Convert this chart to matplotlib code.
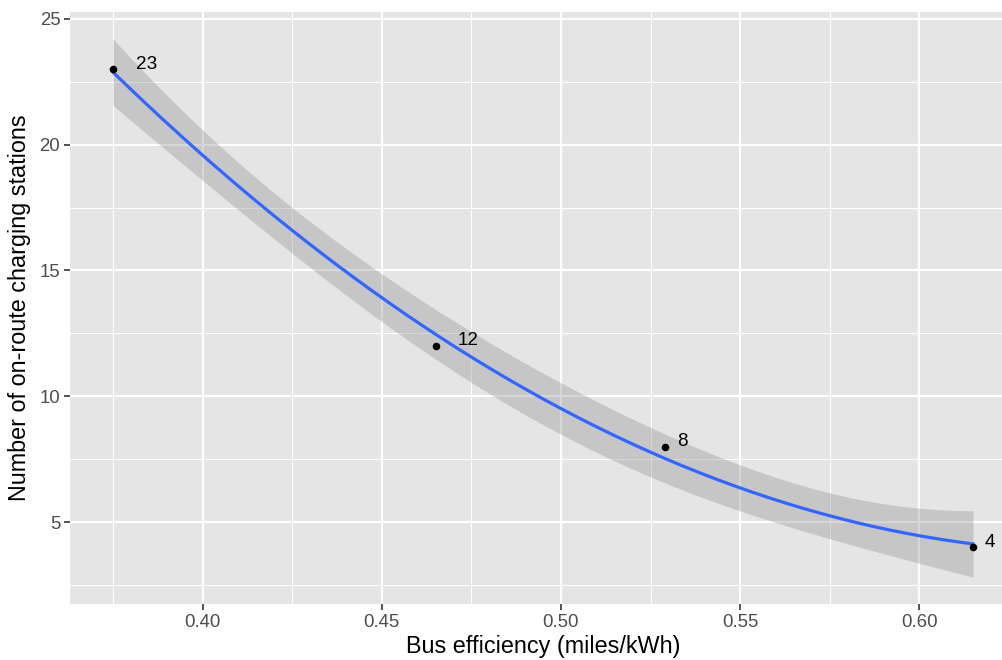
import numpy as np
import matplotlib
matplotlib.use('Agg')
import matplotlib.pyplot as plt
from matplotlib.ticker import MultipleLocator

efficiency = [0.375, 0.465, 0.529, 0.615]
stations = [23, 12, 8, 4]
labels = ['23', '12', '8', '4']

x = np.array(efficiency)
y = np.array(stations, dtype=float)

# quadratic gaussian glm fit with normal-approx 95% band (geom_smooth(method='glm', formula=y ~ poly(x, 2)))
X = np.column_stack([np.ones_like(x), x, x ** 2])
beta, _, _, _ = np.linalg.lstsq(X, y, rcond=None)
dof = len(x) - X.shape[1]
resid = y - X @ beta
sigma2 = resid @ resid / dof
xtx_inv = np.linalg.inv(X.T @ X)
z_crit = 1.959964

xs = np.linspace(x.min(), x.max(), 200)
Xs = np.column_stack([np.ones_like(xs), xs, xs ** 2])
fit = Xs @ beta
se = np.sqrt(np.einsum('ij,jk,ik->i', Xs, xtx_inv, Xs) * sigma2)
lo = fit - z_crit * se
hi = fit + z_crit * se

plt.rcParams['font.family'] = ['Liberation Sans', 'DejaVu Sans']

fig = plt.figure(figsize=(10.03, 6.6), dpi=100)
# panel runs slightly past the right edge of the canvas
ax = fig.add_axes([70 / 1003, 1 - 604 / 660, 946 / 1003, 592 / 660])
ax.set_facecolor('#E5E5E5')
for s in ax.spines.values():
    s.set_visible(False)

ax.fill_between(xs, lo, hi, color='#999999', alpha=0.4, linewidth=0, zorder=2)
ax.plot(xs, fit, color='#3366FF', linewidth=2.3, zorder=3)
ax.scatter(x, y, color='black', s=30, zorder=4, linewidths=0)

label_size = 13.6
for xi, yi, lab in zip(x, y, labels):
    # hjust = -1 style: shift right by the label's own width
    dx = 0.556 * len(lab) + 0.08
    ax.annotate(lab, (xi, yi), xytext=(dx, 0.27), textcoords='offset fontsize',
                fontsize=label_size, color='black', va='center', ha='left', zorder=5)

# ggplot-style 5% expansion
xr = x.max() - x.min()
ax.set_xlim(x.min() - 0.05 * xr, x.max() + 0.05 * xr)
ymin, ymax = min(lo.min(), y.min()), max(hi.max(), y.max())
yr = ymax - ymin
ax.set_ylim(ymin - 0.05 * yr, ymax + 0.05 * yr)

ax.xaxis.set_major_locator(MultipleLocator(0.05))
ax.xaxis.set_minor_locator(MultipleLocator(0.025))
ax.yaxis.set_major_locator(MultipleLocator(5))
ax.yaxis.set_minor_locator(MultipleLocator(2.5))
ax.xaxis.set_major_formatter(plt.FuncFormatter(lambda v, p: f'{v:.2f}'))
ax.grid(which='major', color='white', linewidth=1.5, zorder=0)
ax.grid(which='minor', color='white', linewidth=0.75, zorder=0)
ax.set_axisbelow(True)

ax.tick_params(which='major', length=4, width=1.2, color='#333333',
               labelsize=13.4, labelcolor='#4D4D4D', pad=3)
ax.tick_params(which='minor', length=0)

ax.set_xlabel('Bus efficiency (miles/kWh)', fontsize=16.8, color='black', labelpad=3)
ax.set_ylabel('Number of on-route charging stations', fontsize=16.8, color='black', labelpad=6)

fig.savefig('out.png', dpi=100, facecolor='white')
